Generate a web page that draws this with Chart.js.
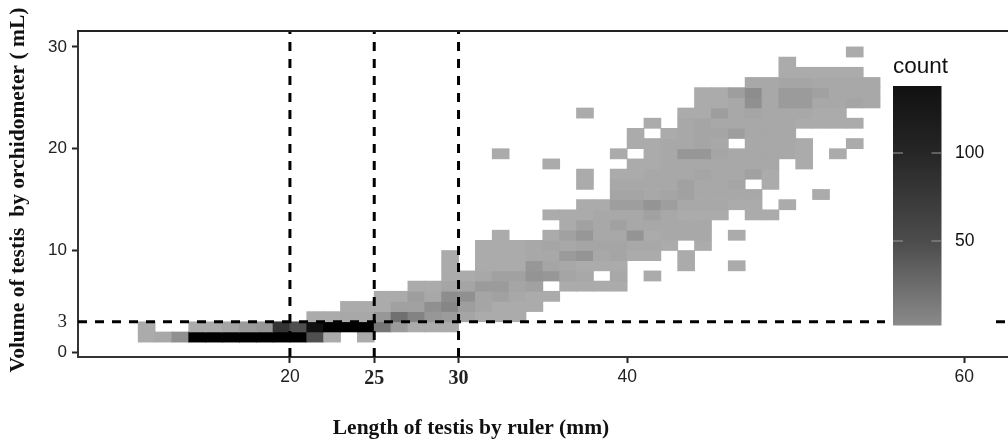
<!DOCTYPE html>
<html>
<head>
<meta charset="utf-8">
<style>html,body{margin:0;padding:0;background:#fff}canvas{display:block}</style>
<script src="https://cdn.jsdelivr.net/npm/chart.js@4"></script>
</head>
<body>
<canvas id="c" width="1008" height="442"></canvas>
<script>
// Each run: volume bin, first length bin, counts in consecutive length bins.
const yBins = [1,1,2,2,3,4,5,6,6,7,7,7,8,8,8,8,9,9,9,10,10,11,11,11,12,13,13,14,14,15,15,16,16,16,17,17,18,18,18,19,19,19,19,20,20,20,21,21,22,22,23,23,24,25,26,27,28,29];
const xStarts = [11,24,11,14,21,23,25,27,36,29,39,41,29,31,43,46,29,31,43,31,44,32,35,46,36,35,47,37,49,39,51,37,39,48,37,39,35,40,50,32,39,41,52,40,47,53,40,42,41,43,37,43,44,44,47,49,49,53];
const runCounts = [
  [2,3,10,135,135,135,135,135,135,135,35,2],[2],
  [2],[2,2,4,7,8,60,35,115,135,135,135,18,7,2,2,2],
  [2,2,3,3,8,20,14,8,7,4,2,2,2],
  [2,2,2,5,5,10,13,6,4,2,2,2],
  [2,2,6,3,11,10,4,5,3,2,2],
  [2,2,4,4,7,7,4,5],[2,2,2,2],
  [2,2,3,5,5,9,8,4,3],[3],[2],
  [2],[2,2,2,8,4,3,2,2,2],[2],[2],
  [2],[2,2,2,3,3,7,9,3,4,2,2],[2],
  [2,2,2,3,4,3,4,4,4,3,3,2],[2],
  [2],[2,5,8,3,3,9,2,3,3,3],[2],
  [2,5,3,5,3,3,3,3,3],
  [2,2,2,3,3,3,5,3,2,2,2],[2,2],
  [2,2,6,6,9,6,3,3,3,2,2],[2],
  [4,4,3,4,5,3,3,3,3],[2],
  [2],[3,3,3,3,5,3,3,4],[2],
  [2],[2,2,3,3,3,4,3,3,5,2],
  [2],[2,2,3,3,3,3,3,3,3],[2],
  [2],[2],[2,3,8,8,4,3,3,3,3,2],[2],
  [2,2,3,3,4,3],[3,3,3,2],[2],
  [2],[2,3,4,4,6,3,3,3],
  [2],[3,4,3,3,3,3,3,2,2,2,2],
  [2],[2,2,6,3,4,3,3,3,2,2],
  [2,2,3,10,3,7,7,3,3,4,3],
  [2,2,6,11,3,7,7,5,3,3,3],
  [3,3,4,4,3,3,3,3],
  [2,2,2,2,2],[2],[2]
];
const xTicks = [20,25,30,40,60];
const yTicks = [0,3,10,20,30];
const xCutoffs = [20,25,30];
const yCutoff = 3;
const legendTicks = [50,100];
const countAnchors = [1,3,6,10,15,20,30,60,100,115,135];
const grayAnchors = [174,168,158,144,128,112,85,51,30,17,0];

function countGray(n){
  for(let i=1;i<countAnchors.length;i++){
    if(n<=countAnchors[i]){
      const t=(n-countAnchors[i-1])/(countAnchors[i]-countAnchors[i-1]);
      const g=Math.round(grayAnchors[i-1]+t*(grayAnchors[i]-grayAnchors[i-1]));
      return `rgb(${g},${g},${g})`;
    }
  }
  return 'rgb(0,0,0)';
}

const cells=[];
runCounts.forEach((run,i)=>run.forEach((n,j)=>{
  cells.push({x:xStarts[i]+j+0.5,y:[yBins[i],yBins[i]+1],n});
}));

const xMin=7.43,xMax=62.59,yMin=-0.46,yMax=31.56;
const sans='"Liberation Sans", Arial, sans-serif';
const serif='"Liberation Serif", "Times New Roman", serif';
const dash={type:'scatter',showLine:true,pointRadius:0,borderColor:'#000',borderWidth:3,borderDash:[9,8],order:1};

const decor={
  id:'decor',
  afterDatasetsDraw(chart){
    const c=chart.ctx,a=chart.chartArea;
    c.save();
    c.strokeStyle='#222';c.lineWidth=2;
    c.beginPath();c.moveTo(a.left-1,a.top);c.lineTo(a.right,a.top);c.stroke();
    // legend panel
    c.fillStyle='#fff';c.fillRect(885,56,108,280);
    const top=86,bottom=325.5,lx=893,lw=48.5;
    const g=c.createLinearGradient(0,top,0,bottom);
    g.addColorStop(0,'#111');g.addColorStop(0.28,'#262626');g.addColorStop(0.65,'#4c4c4c');g.addColorStop(1,'#8a8a8a');
    c.fillStyle=g;c.fillRect(lx,top,lw,bottom-top);
    c.fillStyle='#111';c.font='22.5px '+sans;c.textAlign='left';c.textBaseline='middle';
    c.fillText('count',893,67);
    c.font='17.5px '+sans;
    legendTicks.forEach(v=>{
      const y=329-v*1.76;
      c.strokeStyle='#9a9a9a';c.lineWidth=1;
      c.beginPath();c.moveTo(lx,y);c.lineTo(lx+10,y);c.moveTo(lx+lw-10,y);c.lineTo(lx+lw,y);c.stroke();
      c.fillStyle='#111';c.fillText(String(v),955,y);
    });
    // axis titles
    c.fillStyle='#111';c.font='bold 21.5px '+serif;c.textAlign='center';
    c.fillText('Length of testis by ruler (mm)',471,428);
    c.translate(18,190);c.rotate(-Math.PI/2);
    c.fillText('Volume of testis  by orchidometer ( mL)',0,0);
    c.restore();
  }
};

new Chart(document.getElementById('c'),{
  data:{datasets:[
    {type:'bar',data:cells,barThickness:17,grouped:false,order:2,
     backgroundColor:ctx=>countGray(ctx.raw?ctx.raw.n:1)},
    ...xCutoffs.map(v=>({...dash,data:[{x:v,y:yMin},{x:v,y:yMax}]})),
    {...dash,data:[{x:xMin,y:yCutoff},{x:xMax,y:yCutoff}]}
  ]},
  options:{
    responsive:false,animation:false,
    layout:{padding:{top:31,right:0,left:0,bottom:0}},
    plugins:{legend:{display:false},tooltip:{enabled:false}},
    scales:{
      x:{type:'linear',min:xMin,max:xMax,offset:false,
         afterBuildTicks:s=>{s.ticks=xTicks.map(value=>({value}));},
         afterFit:s=>{s.height=85;},
         border:{display:true,color:'#333',width:2},
         grid:{display:true,offset:false,drawOnChartArea:false,drawTicks:true,tickLength:6,tickWidth:2,tickColor:'#222'},
         ticks:{autoSkip:false,maxRotation:0,padding:4,color:'#222',
           font:ctx=>(ctx.tick&&(ctx.tick.value===25||ctx.tick.value===30))?{family:serif,size:20,weight:'bold'}:{family:sans,size:17.5},
           callback:v=>String(v)}},
      y:{type:'linear',min:yMin,max:yMax,
         afterBuildTicks:s=>{s.ticks=yTicks.map(value=>({value}));},
         afterFit:s=>{s.width=78;},
         border:{display:true,color:'#333',width:2},
         grid:{display:true,drawOnChartArea:false,drawTicks:true,tickLength:6,tickWidth:2,
           tickColor:ctx=>(ctx.tick&&ctx.tick.value===3)?'rgba(0,0,0,0)':'#222'},
         ticks:{autoSkip:false,padding:5,color:'#222',
           font:ctx=>(ctx.tick&&ctx.tick.value===3)?{family:serif,size:19}:{family:sans,size:17},
           callback:v=>String(v)}}
    }
  },
  plugins:[decor]
});
</script>
</body>
</html>
